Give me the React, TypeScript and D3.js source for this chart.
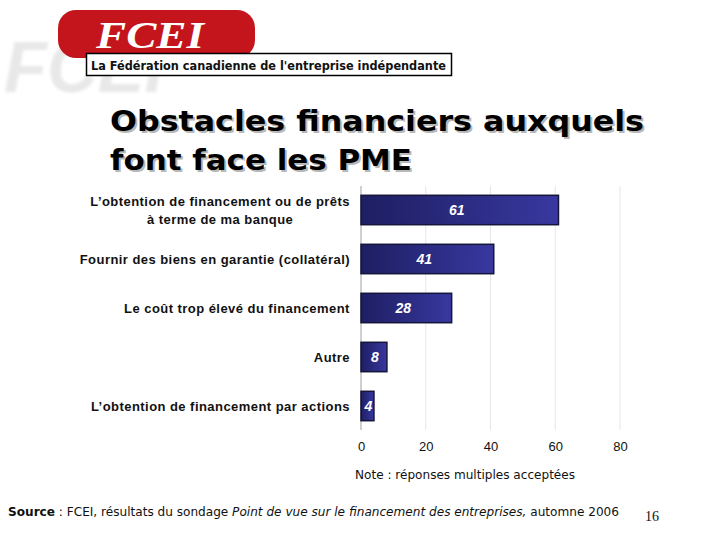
import { useEffect, useRef } from "react";
import * as d3 from "d3";

const categories = [
  ["L’obtention de financement ou de prêts", "à terme de ma banque"],
  ["Fournir des biens en garantie (collatéral)"],
  ["Le coût trop élevé du financement"],
  ["Autre"],
  ["L’obtention de financement par actions"],
];
const values = [61, 41, 28, 8, 4];
const ticks = [0, 20, 40, 60, 80];

export default function App() {
  const svgRef = useRef<SVGSVGElement>(null);

  useEffect(() => {
    const width = 720;
    const height = 540;
    const svg = d3.select(svgRef.current).attr("width", width).attr("height", height);
    svg.selectAll("*").remove();

    const defs = svg.append("defs");
    const grad = defs.append("linearGradient").attr("id", "barGrad").attr("x1", "0").attr("x2", "1");
    grad.append("stop").attr("offset", "0%").attr("stop-color", "#1e1e62");
    grad.append("stop").attr("offset", "100%").attr("stop-color", "#3838a0");
    const shadow = defs.append("filter").attr("id", "blur");
    shadow.append("feGaussianBlur").attr("stdDeviation", 1.5);

    // logo watermark
    svg.append("text")
      .attr("x", 4).attr("y", 92)
      .attr("font-family", "Liberation Sans").attr("font-weight", "bold").attr("font-style", "italic")
      .attr("font-size", 72).attr("fill", "#e8e8e8").attr("filter", "url(#blur)")
      .attr("textLength", 160).attr("lengthAdjust", "spacingAndGlyphs")
      .text("FCEI");
    svg.append("rect")
      .attr("x", 58).attr("y", 10).attr("width", 197).attr("height", 48).attr("rx", 18)
      .attr("fill", "#c4151c");
    svg.append("text")
      .attr("x", 96).attr("y", 48)
      .attr("font-family", "Liberation Serif").attr("font-weight", "bold").attr("font-style", "italic")
      .attr("font-size", 38).attr("fill", "#fff")
      .attr("textLength", 108).attr("lengthAdjust", "spacingAndGlyphs")
      .text("FCEI");
    svg.append("rect")
      .attr("x", 86.5).attr("y", 53.5).attr("width", 365).attr("height", 22)
      .attr("fill", "#fff").attr("stroke", "#000").attr("stroke-width", 1.5);
    svg.append("text")
      .attr("x", 91).attr("y", 70)
      .attr("font-family", "DejaVu Sans").attr("font-weight", "bold")
      .attr("font-size", 12.5).attr("fill", "#111")
      .attr("textLength", 355).attr("lengthAdjust", "spacingAndGlyphs")
      .text("La Fédération canadienne de l'entreprise indépendante");

    // title with shadow
    const titleLines = ["Obstacles financiers auxquels", "font face les PME"];
    const titleLens = [534, 302];
    titleLines.forEach((t, i) => {
      [
        { dx: 2, dy: 2, fill: "#b8b8b8" },
        { dx: 0, dy: 0, fill: "#000" },
      ].forEach((s) => {
        svg.append("text")
          .attr("x", 110 + s.dx).attr("y", 131 + i * 39 + s.dy)
          .attr("font-family", "DejaVu Sans").attr("font-weight", "bold")
          .attr("font-size", 28).attr("fill", s.fill)
          .attr("textLength", titleLens[i]).attr("lengthAdjust", "spacingAndGlyphs")
          .text(t);
      });
    });

    const x = d3.scaleLinear().domain([0, 80]).range([361, 620]);
    const y = d3.scaleBand<number>()
      .domain(d3.range(values.length))
      .range([185.5, 430.5])
      .paddingInner(0.4)
      .paddingOuter(0.2);

    // grid
    svg.append("g").selectAll("line").data(ticks.slice(1)).join("line")
      .attr("x1", (d) => x(d)).attr("x2", (d) => x(d))
      .attr("y1", 186).attr("y2", 430)
      .attr("stroke", "#e6e6e6").attr("stroke-width", 1);
    svg.append("line")
      .attr("x1", x(0)).attr("x2", x(0)).attr("y1", 186).attr("y2", 430)
      .attr("stroke", "#a0a0a0").attr("stroke-width", 1);

    // x axis labels
    const xAxis = svg.append("g")
      .attr("transform", `translate(0,436)`)
      .call(d3.axisBottom(x).tickValues(ticks).tickSize(0).tickPadding(6));
    xAxis.select(".domain").remove();
    xAxis.selectAll("text")
      .attr("font-family", "Liberation Sans").attr("font-size", 13).attr("fill", "#111");

    // bars
    svg.append("g").selectAll("rect").data(values).join("rect")
      .attr("x", x(0))
      .attr("y", (_, i) => y(i)!)
      .attr("width", (d) => x(d) - x(0))
      .attr("height", y.bandwidth())
      .attr("fill", "url(#barGrad)")
      .attr("stroke", "#15153a").attr("stroke-width", 1.5);

    svg.append("g").selectAll("text").data(values).join("text")
      .attr("x", (d) => (x(d) + x(0)) / 2 - (d < 10 ? -1 : 3))
      .attr("y", (_, i) => y(i)! + y.bandwidth() / 2 + 5)
      .attr("text-anchor", "middle")
      .attr("font-family", "Liberation Sans").attr("font-weight", "bold").attr("font-style", "italic")
      .attr("font-size", 14).attr("fill", "#fff")
      .text((d) => d);

    // category labels
    categories.forEach((lines, i) => {
      const cy = y(i)! + y.bandwidth() / 2;
      const t = svg.append("text")
        .attr("font-family", "Liberation Sans").attr("font-weight", "bold")
        .attr("font-size", 13).attr("letter-spacing", 0.45).attr("fill", "#111")
        .attr("text-anchor", "middle");
      const lh = 18;
      const top = cy - ((lines.length - 1) * lh) / 2 + 5;
      lines.forEach((ln, j) => {
        t.append("tspan").attr("x", 0).attr("y", top + j * lh).text(ln);
      });
      // right align block: measure widest line
      const node = t.node() as SVGTextElement;
      const w = node.getBBox().width;
      t.attr("transform", `translate(${350 - w / 2},0)`);
    });

    // notes
    svg.append("text")
      .attr("x", 355).attr("y", 479)
      .attr("font-family", "DejaVu Sans").attr("font-size", 11.5).attr("fill", "#111")
      .attr("textLength", 220).attr("lengthAdjust", "spacingAndGlyphs")
      .text("Note : réponses multiples acceptées");
    const src = svg.append("text")
      .attr("x", 8).attr("y", 516)
      .attr("font-family", "DejaVu Sans").attr("font-size", 11.5).attr("fill", "#111")
      .attr("textLength", 611).attr("lengthAdjust", "spacingAndGlyphs");
    src.append("tspan").attr("font-weight", "bold").text("Source");
    src.append("tspan").text(" : FCEI, résultats du sondage ");
    src.append("tspan").attr("font-style", "italic").text("Point de vue sur le financement des entreprises,");
    src.append("tspan").text("  automne 2006");
    svg.append("text")
      .attr("x", 645).attr("y", 521)
      .attr("font-family", "Liberation Serif").attr("font-size", 14).attr("fill", "#111")
      .text("16");
  }, []);

  return (
    <div style={{ position: "fixed", left: 0, top: 0, background: "#fff" }}>
      <svg ref={svgRef}></svg>
    </div>
  );
}
